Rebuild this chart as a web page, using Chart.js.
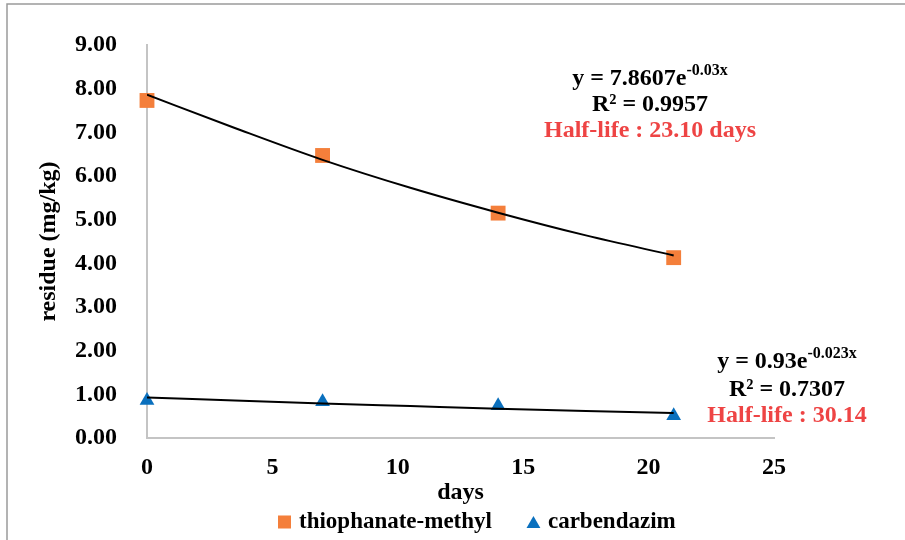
<!DOCTYPE html>
<html>
<head>
<meta charset="utf-8">
<script src="https://cdn.jsdelivr.net/npm/chart.js@4/dist/chart.umd.min.js"></script>
<style>
	body { margin: 0; background: #fff; }
	#wrap { width: 905px; height: 540px; }
</style>
</head>
<body>
<div id="wrap"><canvas id="residueChart" width="905" height="540"></canvas></div>
<script>
"use strict"

// data
const days = [0, 7, 14, 21]
const thiophanate = [7.73, 6.47, 5.15, 4.13]
const carbendazim = [0.86, 0.83, 0.74, 0.51]

// exponential trendlines, sampled from the fitted curves shown
const trendDays = [0, 3.5, 7, 10.5, 14, 17.5, 21]
const trendThio = [7.86, 7.1, 6.37, 5.73, 5.16, 4.64, 4.18]
const trendCarb = [0.93, 0.86, 0.79, 0.73, 0.67, 0.62, 0.57]

const yTicks = [0, 1, 2, 3, 4, 5, 6, 7, 8, 9]
const xTicks = [0, 5, 10, 15, 20, 25]

const ORANGE = "#F47F3B"
const BLUE = "#0A70BE"
const RED = "#EE4444"
const FONT = "'Liberation Serif', 'Times New Roman', serif"

const pts = (xs, ys) => xs.map((x, i) => ({ x: x, y: ys[i] }))

// equations, legend and frame
const decor = {
	id: "decor",
	afterDraw(chart) {
		const ctx = chart.ctx
		ctx.save()

		// outer frame (top and left only)
		ctx.strokeStyle = "#9a9a9a"
		ctx.lineWidth = 1.5
		ctx.beginPath()
		ctx.moveTo(7, 540)
		ctx.lineTo(7, 4)
		ctx.lineTo(905, 4)
		ctx.stroke()

		function eqLine(main, sup, cx, cy) {
			ctx.font = "bold 24px " + FONT
			const w1 = ctx.measureText(main).width
			ctx.font = "bold 16px " + FONT
			const w2 = ctx.measureText(sup).width
			const x0 = cx - (w1 + w2) / 2
			ctx.fillStyle = "#000"
			ctx.textBaseline = "middle"
			ctx.textAlign = "left"
			ctx.font = "bold 24px " + FONT
			ctx.fillText(main, x0, cy)
			ctx.font = "bold 16px " + FONT
			ctx.fillText(sup, x0 + w1, cy - 8)
		}
		function centered(txt, cx, cy, color) {
			ctx.font = "bold 24px " + FONT
			ctx.fillStyle = color
			ctx.textAlign = "center"
			ctx.textBaseline = "middle"
			ctx.fillText(txt, cx, cy)
		}

		eqLine("y = 7.8607e", "-0.03x", 650, 79)
		centered("R\u00b2 = 0.9957", 650, 105, "#000")
		centered("Half-life : 23.10 days", 650, 131, RED)

		eqLine("y = 0.93e", "-0.023x", 787, 362)
		centered("R\u00b2 = 0.7307", 787, 390, "#000")
		centered("Half-life : 30.14", 787, 416, RED)

		// legend
		const items = [
			{ label: "thiophanate-methyl", style: "rect", color: ORANGE, r: 9.2 },
			{ label: "carbendazim", style: "triangle", color: BLUE, r: 8 },
		]
		ctx.font = "bold 23px " + FONT
		ctx.textAlign = "left"
		ctx.textBaseline = "middle"
		let x = 278
		const ly = 522
		items.forEach(function (it) {
			ctx.fillStyle = it.color
			ctx.strokeStyle = it.color
			Chart.helpers.drawPoint(ctx, { pointStyle: it.style, radius: it.r, borderWidth: 0 }, x + 6.5, it.style === "triangle" ? ly + 2 : ly)
			ctx.fillStyle = "#000"
			ctx.fillText(it.label, x + 21, ly)
			x += 21 + ctx.measureText(it.label).width + 35
		})

		ctx.restore()
	},
}

const ctx = document.getElementById("residueChart")
const myChart = new Chart(ctx, {
	type: "scatter",
	data: {
		datasets: [
			{
				label: "trend thiophanate-methyl",
				type: "line",
				data: pts(trendDays, trendThio),
				borderColor: "#000",
				borderWidth: 2,
				pointRadius: 0,
				cubicInterpolationMode: "monotone",
				order: 0,
			},
			{
				label: "trend carbendazim",
				type: "line",
				data: pts(trendDays, trendCarb),
				borderColor: "#000",
				borderWidth: 2,
				pointRadius: 0,
				cubicInterpolationMode: "monotone",
				order: 0,
			},
			{
				label: "thiophanate-methyl",
				data: pts(days, thiophanate),
				pointStyle: "rect",
				pointRadius: 10.5,
				backgroundColor: ORANGE,
				borderColor: ORANGE,
				borderWidth: 0,
				clip: false,
				order: 1,
			},
			{
				label: "carbendazim",
				data: pts(days, carbendazim),
				pointStyle: "triangle",
				pointRadius: 8.5,
				backgroundColor: BLUE,
				borderColor: BLUE,
				borderWidth: 0,
				clip: false,
				order: 1,
			},
		],
	},
	options: {
		responsive: false,
		animation: false,
		devicePixelRatio: 1,
		layout: {
			padding: { left: 0, right: 131, top: 45, bottom: 0 },
		},
		plugins: {
			legend: { display: false },
			tooltip: { enabled: false },
		},
		scales: {
			x: {
				type: "linear",
				min: 0,
				max: 25,
				afterBuildTicks: function (scale) {
					scale.ticks = xTicks.map((v) => ({ value: v }))
				},
				afterFit: function (scale) {
					scale.height = 102
				},
				grid: { display: false, drawTicks: false },
				border: { display: true, color: "#c4c4c4", width: 2 },
				ticks: {
					padding: 18,
					color: "#000",
					font: { family: FONT, size: 24, weight: "bold", lineHeight: 1 },
				},
				title: {
					display: true,
					text: "days",
					color: "#000",
					padding: { top: 0, bottom: 35 },
					font: { family: FONT, size: 24, weight: "bold", lineHeight: 1 },
				},
			},
			y: {
				min: 0,
				max: 9,
				afterBuildTicks: function (scale) {
					scale.ticks = yTicks.map((v) => ({ value: v }))
				},
				afterFit: function (scale) {
					scale.width = 147
				},
				grid: { display: false, drawTicks: false },
				border: { display: true, color: "#c4c4c4", width: 2 },
				ticks: {
					padding: 30,
					color: "#000",
					font: { family: FONT, size: 24, weight: "bold" },
					callback: function (v) {
						return Number(v).toFixed(2)
					},
				},
				title: {
					display: true,
					text: "residue (mg/kg)",
					color: "#000",
					padding: { top: 37, bottom: 0 },
					font: { family: FONT, size: 24, weight: "bold", lineHeight: 1 },
				},
			},
		},
	},
	plugins: [decor],
})
</script>
</body>
</html>
